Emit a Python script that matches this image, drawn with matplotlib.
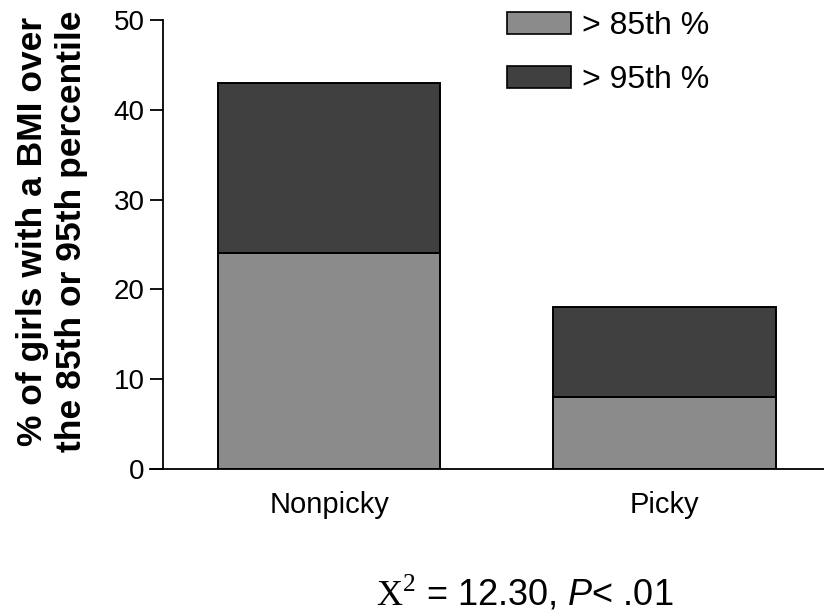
import matplotlib
matplotlib.use("Agg")
import matplotlib.pyplot as plt
from matplotlib.patches import Patch

# data
groups = ["Nonpicky", "Picky"]
over_85 = [24, 8]
over_95 = [19, 10]  # stacked on top of the >85th segment
series_labels = ["> 85th %", "> 95th %"]
y_ticks = [0, 10, 20, 30, 40, 50]

plt.rcParams["font.family"] = ["Liberation Sans", "DejaVu Sans"]
plt.rcParams["mathtext.fontset"] = "custom"
plt.rcParams["mathtext.rm"] = "Liberation Serif"
plt.rcParams["mathtext.it"] = "Liberation Sans:italic"

light = "#8b8b8b"
dark = "#404040"

fig = plt.figure(figsize=(8.24, 6.16), dpi=100)
ax = fig.add_axes([0.198, 0.2386, 0.802, 0.729])

x = list(range(len(groups)))
width = 0.663
ax.bar(x, over_85, width, color=light, edgecolor="black", linewidth=1.4)
ax.bar(x, over_95, width, bottom=over_85, color=dark, edgecolor="black", linewidth=1.4)

ax.set_xlim(-0.4955, 1.476)
ax.set_ylim(0, 50)
ax.set_yticks(y_ticks)
ax.set_xticks(x)
ax.set_xticklabels(groups, fontsize=21)
ax.tick_params(axis="y", length=9.5, width=1.3, labelsize=20, pad=4)
ax.tick_params(axis="x", length=0, pad=16)

for side in ("top", "right"):
    ax.spines[side].set_visible(False)
ax.spines["left"].set_linewidth(1.3)
ax.spines["bottom"].set_linewidth(1.3)
ax.spines["bottom"].set_bounds(-0.4955 - 13 / 335, 1.476)
ax.spines["bottom"].set_clip_on(False)

fig.text(52 / 824, 0.625, "% of girls with a BMI over\nthe 85th or 95th percentile",
         fontsize=25.5, fontweight="bold", rotation=90, ha="center", va="center",
         linespacing=1.2)

handles = [Patch(facecolor=light, edgecolor="black", linewidth=1.2),
           Patch(facecolor=dark, edgecolor="black", linewidth=1.2)]
fig.legend(handles, series_labels, loc="upper left", bbox_to_anchor=(507 / 824, 1 - 11 / 616),
           frameon=False, fontsize=23, handlelength=2.0, handleheight=0.7,
           handletextpad=0.35, labelspacing=0.75, borderpad=0, borderaxespad=0)

fig.text(525 / 824, 0.036, r"$\mathrm{X}^2$ = 12.30, $P$< .01", fontsize=26, ha="center", va="center")

fig.savefig("out.png", dpi=100)
